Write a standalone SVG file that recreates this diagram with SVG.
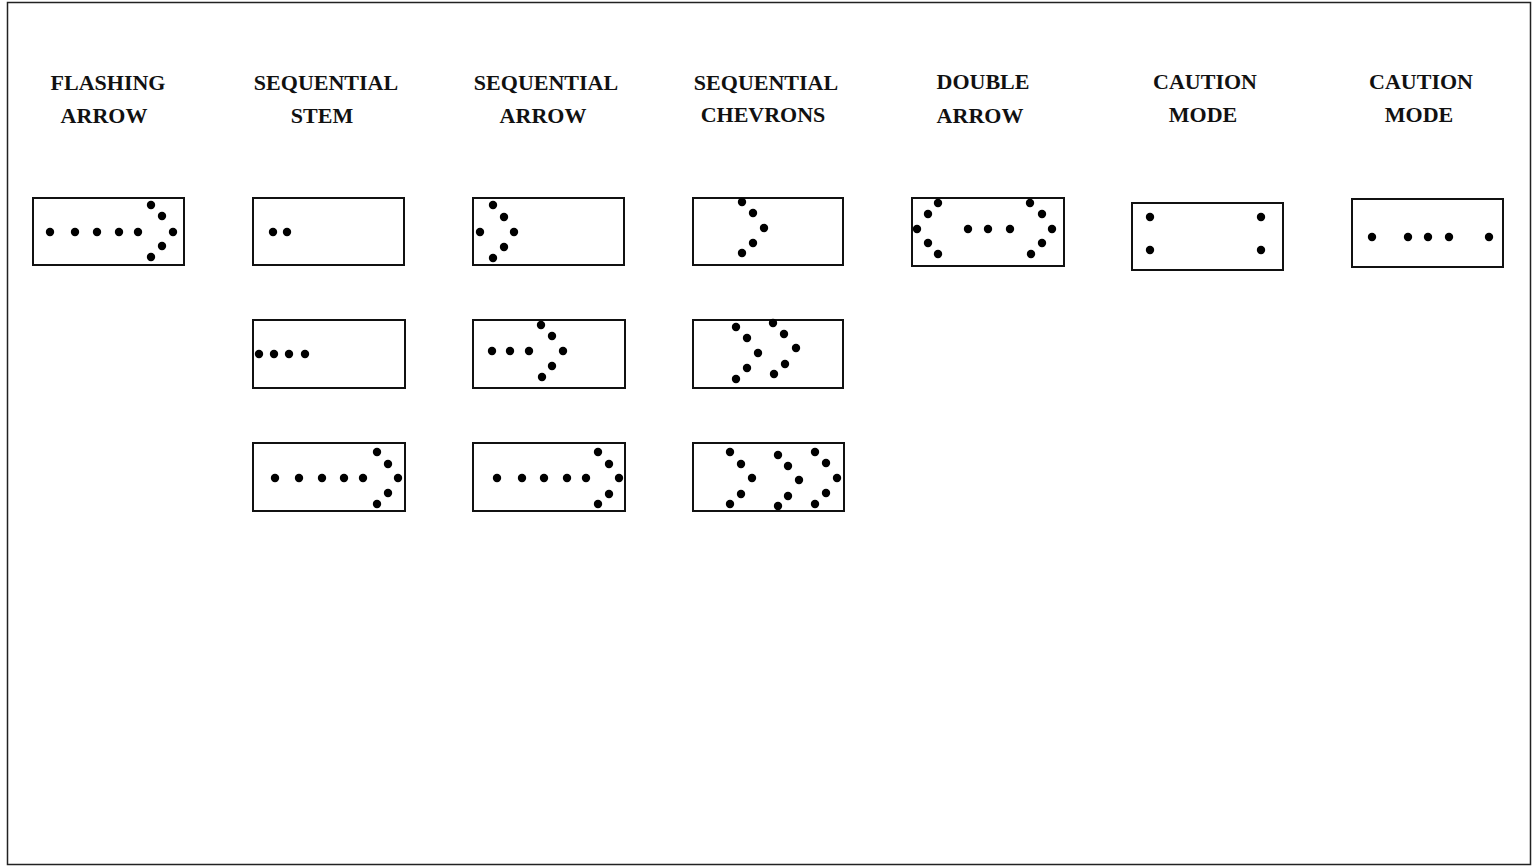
<svg xmlns="http://www.w3.org/2000/svg" width="1533" height="867" viewBox="0 0 1533 867">
<style>
.bg{fill:#fff}
.frame{fill:none;stroke:#222;stroke-width:1.5}
.box{fill:#fff;stroke:#111;stroke-width:2}
.lbl{font-family:"Liberation Serif","DejaVu Serif",serif;font-weight:bold;font-size:22px;fill:#111;text-anchor:middle}
circle{fill:#000}
</style>
<rect class="bg" x="0" y="0" width="1533" height="867"/>
<rect class="frame" x="7.5" y="2.5" width="1523" height="862"/>

<g id="label-flashing"><text class="lbl" x="108" y="90">FLASHING</text><text class="lbl" x="104" y="123">ARROW</text></g>
<g id="label-seqstem"><text class="lbl" x="326" y="90">SEQUENTIAL</text><text class="lbl" x="322" y="123">STEM</text></g>
<g id="label-seqarrow"><text class="lbl" x="546" y="90">SEQUENTIAL</text><text class="lbl" x="543" y="123">ARROW</text></g>
<g id="label-seqchev"><text class="lbl" x="766" y="90">SEQUENTIAL</text><text class="lbl" x="763" y="122">CHEVRONS</text></g>
<g id="label-double"><text class="lbl" x="983" y="89">DOUBLE</text><text class="lbl" x="980" y="123">ARROW</text></g>
<g id="label-caution1"><text class="lbl" x="1205" y="89">CAUTION</text><text class="lbl" x="1203" y="122">MODE</text></g>
<g id="label-caution2"><text class="lbl" x="1421" y="89">CAUTION</text><text class="lbl" x="1419" y="122">MODE</text></g>

<g id="flashing-arrow">
<rect class="box" x="33" y="198" width="151" height="67"/>
<circle cx="50" cy="232" r="4.2"/><circle cx="75" cy="232" r="4.2"/><circle cx="97" cy="232" r="4.2"/><circle cx="119" cy="232" r="4.2"/><circle cx="138" cy="232" r="4.2"/>
<circle cx="151" cy="205" r="4.2"/><circle cx="162" cy="216" r="4.2"/><circle cx="173" cy="232" r="4.2"/><circle cx="162" cy="246" r="4.2"/><circle cx="151" cy="257" r="4.2"/>
</g>

<g id="seq-stem-1">
<rect class="box" x="253" y="198" width="151" height="67"/>
<circle cx="273" cy="232" r="4.2"/><circle cx="287" cy="232" r="4.2"/>
</g>
<g id="seq-stem-2">
<rect class="box" x="253" y="320" width="152" height="68"/>
<circle cx="259" cy="354" r="4.2"/><circle cx="274" cy="354" r="4.2"/><circle cx="289" cy="354" r="4.2"/><circle cx="305" cy="354" r="4.2"/>
</g>
<g id="seq-stem-3">
<rect class="box" x="253" y="443" width="152" height="68"/>
<circle cx="275" cy="478" r="4.2"/><circle cx="299" cy="478" r="4.2"/><circle cx="322" cy="478" r="4.2"/><circle cx="344" cy="478" r="4.2"/><circle cx="363" cy="478" r="4.2"/>
<circle cx="377" cy="452" r="4.2"/><circle cx="388" cy="464" r="4.2"/><circle cx="398" cy="478" r="4.2"/><circle cx="388" cy="493" r="4.2"/><circle cx="377" cy="504" r="4.2"/>
</g>

<g id="seq-arrow-1">
<rect class="box" x="473" y="198" width="151" height="67"/>
<circle cx="493" cy="205" r="4.2"/><circle cx="504" cy="217" r="4.2"/><circle cx="480" cy="232" r="4.2"/><circle cx="514" cy="232" r="4.2"/><circle cx="504" cy="247" r="4.2"/><circle cx="493" cy="258" r="4.2"/>
</g>
<g id="seq-arrow-2">
<rect class="box" x="473" y="320" width="152" height="68"/>
<circle cx="492" cy="351" r="4.2"/><circle cx="510" cy="351" r="4.2"/><circle cx="529" cy="351" r="4.2"/>
<circle cx="541" cy="325" r="4.2"/><circle cx="552" cy="336" r="4.2"/><circle cx="563" cy="351" r="4.2"/><circle cx="552" cy="366" r="4.2"/><circle cx="542" cy="377" r="4.2"/>
</g>
<g id="seq-arrow-3">
<rect class="box" x="473" y="443" width="152" height="68"/>
<circle cx="497" cy="478" r="4.2"/><circle cx="522" cy="478" r="4.2"/><circle cx="544" cy="478" r="4.2"/><circle cx="567" cy="478" r="4.2"/><circle cx="586" cy="478" r="4.2"/>
<circle cx="598" cy="452" r="4.2"/><circle cx="609" cy="464" r="4.2"/><circle cx="619" cy="478" r="4.2"/><circle cx="609" cy="494" r="4.2"/><circle cx="598" cy="504" r="4.2"/>
</g>

<g id="seq-chevrons-1">
<rect class="box" x="693" y="198" width="150" height="67"/>
<circle cx="742" cy="202" r="4.2"/><circle cx="753" cy="213" r="4.2"/><circle cx="764" cy="228" r="4.2"/><circle cx="753" cy="243" r="4.2"/><circle cx="742" cy="253" r="4.2"/>
</g>
<g id="seq-chevrons-2">
<rect class="box" x="693" y="320" width="150" height="68"/>
<circle cx="736" cy="327" r="4.2"/><circle cx="747" cy="338" r="4.2"/><circle cx="758" cy="353" r="4.2"/><circle cx="747" cy="368" r="4.2"/><circle cx="736" cy="379" r="4.2"/>
<circle cx="773" cy="323" r="4.2"/><circle cx="784" cy="334" r="4.2"/><circle cx="796" cy="348" r="4.2"/><circle cx="785" cy="364" r="4.2"/><circle cx="774" cy="374" r="4.2"/>
</g>
<g id="seq-chevrons-3">
<rect class="box" x="693" y="443" width="151" height="68"/>
<circle cx="730" cy="452" r="4.2"/><circle cx="741" cy="464" r="4.2"/><circle cx="752" cy="478" r="4.2"/><circle cx="741" cy="494" r="4.2"/><circle cx="730" cy="504" r="4.2"/>
<circle cx="778" cy="455" r="4.2"/><circle cx="788" cy="466" r="4.2"/><circle cx="799" cy="480" r="4.2"/><circle cx="788" cy="496" r="4.2"/><circle cx="778" cy="506" r="4.2"/>
<circle cx="815" cy="452" r="4.2"/><circle cx="826" cy="463" r="4.2"/><circle cx="837" cy="478" r="4.2"/><circle cx="826" cy="493" r="4.2"/><circle cx="815" cy="504" r="4.2"/>
</g>

<g id="double-arrow">
<rect class="box" x="912" y="198" width="152" height="68"/>
<circle cx="938" cy="203" r="4.2"/><circle cx="928" cy="214" r="4.2"/><circle cx="917" cy="229" r="4.2"/><circle cx="928" cy="243" r="4.2"/><circle cx="938" cy="254" r="4.2"/>
<circle cx="968" cy="229" r="4.2"/><circle cx="988" cy="229" r="4.2"/><circle cx="1010" cy="229" r="4.2"/>
<circle cx="1030" cy="203" r="4.2"/><circle cx="1042" cy="214" r="4.2"/><circle cx="1052" cy="229" r="4.2"/><circle cx="1042" cy="243" r="4.2"/><circle cx="1031" cy="254" r="4.2"/>
</g>

<g id="caution-mode-1">
<rect class="box" x="1132" y="203" width="151" height="67"/>
<circle cx="1150" cy="217" r="4.2"/><circle cx="1261" cy="217" r="4.2"/><circle cx="1150" cy="250" r="4.2"/><circle cx="1261" cy="250" r="4.2"/>
</g>

<g id="caution-mode-2">
<rect class="box" x="1352" y="199" width="151" height="68"/>
<circle cx="1372" cy="237" r="4.2"/><circle cx="1408" cy="237" r="4.2"/><circle cx="1428" cy="237" r="4.2"/><circle cx="1449" cy="237" r="4.2"/><circle cx="1489" cy="237" r="4.2"/>
</g>
</svg>
